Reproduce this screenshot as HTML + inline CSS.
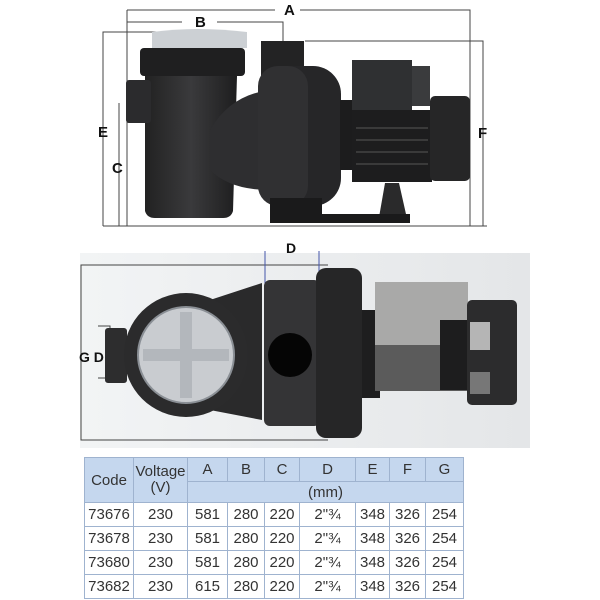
<!DOCTYPE html>
<html><head><style>
body{margin:0;background:#fff;width:600px;height:600px;overflow:hidden;font-family:"Liberation Sans",sans-serif}
svg{position:absolute;left:0;top:0}
table{position:absolute;left:84px;top:457px;border-collapse:collapse;font-size:15px;color:#333;width:379px;table-layout:fixed}
td{border:1px solid #9fb3cf;text-align:center;padding:0;height:23px;white-space:nowrap}
.h{background:#c5d7ee}
</style></head><body>
<svg width="600" height="600" viewBox="0 0 600 600">
<defs>
<linearGradient id="bg" x1="0" x2="1"><stop offset="0" stop-color="#f2f4f5"/><stop offset="1" stop-color="#e4e6e8"/></linearGradient>
<linearGradient id="bd" x1="0" x2="1"><stop offset="0" stop-color="#222"/><stop offset=".5" stop-color="#3a3a3c"/><stop offset="1" stop-color="#1e1e1f"/></linearGradient>
</defs>
<g stroke="#444" stroke-width="1" fill="none">
<path d="M127 10H275M300 10H470V226"/>
<path d="M127 10V226"/>
<path d="M127 22H182M217 22H283V41"/>
<path d="M103 226V32H200"/>
<path d="M305 41H483V226"/>
<path d="M119 103V226"/>
<path d="M103 226H487"/>
</g>
<g font-weight="bold" font-size="15" fill="#111">
<text x="284" y="15">A</text><text x="195" y="27">B</text>
<text x="98" y="137">E</text><text x="112" y="173">C</text><text x="478" y="138">F</text>
</g>
<path d="M152 32q45-6 95 0v16h-95z" fill="#ccd0d4"/>
<rect x="140" y="48" width="105" height="28" rx="4" fill="#1f1f20"/>
<path d="M145 76h92l-4 135q-2 7-10 7h-68q-8 0-10-7z" fill="url(#bd)"/>
<rect x="126" y="80" width="25" height="43" rx="3" fill="#2b2b2d"/>
<rect x="261" y="41" width="43" height="40" fill="#232324"/>
<path d="M210 130q20-35 60-40v100q-40 0-60-20z" fill="#2e2e30"/>
<rect x="258" y="66" width="83" height="140" rx="28" fill="#262628"/>
<rect x="258" y="66" width="50" height="140" rx="20" fill="#303032"/>
<rect x="340" y="100" width="12" height="70" fill="#1c1c1d"/>
<rect x="352" y="60" width="60" height="52" fill="#2f3032"/>
<rect x="412" y="66" width="18" height="40" fill="#3a3b3d"/>
<rect x="352" y="110" width="80" height="72" fill="#1d1d1e"/>
<g stroke="#444" stroke-width="1.5"><path d="M356 128h72M356 140h72M356 152h72M356 164h72"/></g>
<rect x="430" y="96" width="40" height="85" rx="5" fill="#262627"/>
<rect x="270" y="198" width="52" height="25" fill="#1a1a1b"/>
<path d="M385 183h14l9 40h-30z" fill="#2a2a2b"/>
<rect x="270" y="214" width="140" height="9" fill="#1a1a1b"/>
<rect x="80" y="253" width="450" height="195" fill="url(#bg)"/>
<g stroke="#444" stroke-width="1" fill="none">
<path d="M328 265H81V440H328"/>
<path d="M98 326H110V378H98"/>
</g>
<g stroke="#4455aa" stroke-width="1"><path d="M265 251V420M319 251V420"/></g>
<g font-weight="bold" font-size="14" fill="#111">
<text x="286" y="253">D</text><text x="79" y="362">G D</text>
</g>
<path d="M210 300L262 283V420L210 410z" fill="#2a2a2b"/>
<rect x="105" y="328" width="22" height="55" rx="3" fill="#2d2d2e"/>
<circle cx="186" cy="355" r="62" fill="#2b2b2c"/>
<circle cx="186" cy="355" r="48" fill="#c9ccd0" stroke="#8a8f95" stroke-width="2"/>
<path d="M180 312h12v37h37v12h-37v37h-12v-37h-37v-12h37z" fill="#b3b7bc"/>
<rect x="264" y="280" width="56" height="146" rx="6" fill="#343436"/>
<circle cx="290" cy="355" r="22" fill="#050505"/>
<rect x="316" y="268" width="46" height="170" rx="10" fill="#262627"/>
<rect x="362" y="310" width="18" height="88" fill="#1e1e1f"/>
<rect x="375" y="282" width="93" height="63" fill="#a9a9a8"/>
<rect x="375" y="345" width="93" height="46" fill="#5b5b5b"/>
<rect x="440" y="320" width="28" height="70" fill="#1d1d1e"/>
<rect x="467" y="300" width="50" height="105" rx="5" fill="#2c2c2d"/>
<rect x="470" y="322" width="20" height="28" fill="#b5b5b5"/>
<rect x="470" y="372" width="20" height="22" fill="#777"/>
</svg>
<table>
<colgroup><col style="width:49px"><col style="width:54px"><col style="width:40px"><col style="width:37px"><col style="width:35px"><col style="width:56px"><col style="width:34px"><col style="width:36px"><col style="width:38px"></colgroup>
<tr class="h"><td rowspan="2" style="font-size:15px">Code</td><td rowspan="2" style="font-size:15px;line-height:16px">Voltage<br>(V)</td><td>A</td><td>B</td><td>C</td><td>D</td><td>E</td><td>F</td><td>G</td></tr>
<tr class="h"><td colspan="7" style="height:20px">(mm)</td></tr>
<tr><td>73676</td><td>230</td><td>581</td><td>280</td><td>220</td><td>2"¾</td><td>348</td><td>326</td><td>254</td></tr>
<tr><td>73678</td><td>230</td><td>581</td><td>280</td><td>220</td><td>2"¾</td><td>348</td><td>326</td><td>254</td></tr>
<tr><td>73680</td><td>230</td><td>581</td><td>280</td><td>220</td><td>2"¾</td><td>348</td><td>326</td><td>254</td></tr>
<tr><td>73682</td><td>230</td><td>615</td><td>280</td><td>220</td><td>2"¾</td><td>348</td><td>326</td><td>254</td></tr>
</table>
</body></html>
